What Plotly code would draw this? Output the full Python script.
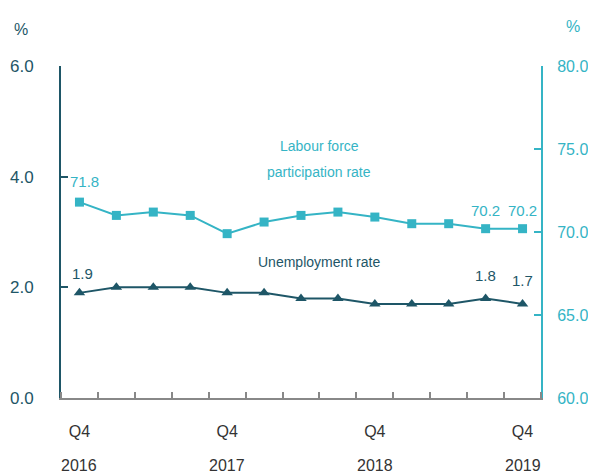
import plotly.graph_objects as go

quarters = ["Q4 2016", "Q1 2017", "Q2 2017", "Q3 2017", "Q4 2017", "Q1 2018", "Q2 2018",
            "Q3 2018", "Q4 2018", "Q1 2019", "Q2 2019", "Q3 2019", "Q4 2019"]
participation = [71.8, 71.0, 71.2, 71.0, 69.9, 70.6, 71.0, 71.2, 70.9, 70.5, 70.5, 70.2, 70.2]
unemployment = [1.9, 2.0, 2.0, 2.0, 1.9, 1.9, 1.8, 1.8, 1.7, 1.7, 1.7, 1.8, 1.7]
tick_idx = [0, 4, 8, 12]
tick_q = ["Q4", "Q4", "Q4", "Q4"]
tick_year = ["2016", "2017", "2018", "2019"]
part_label_idx = [0, 11, 12]
unemp_label_idx = [0, 11, 12]

LIGHT = "#35b4c5"
DARK = "#1e5667"
FONT = "Liberation Sans, Arial"

x = list(range(len(quarters)))

fig = go.Figure()
fig.add_trace(go.Scatter(x=x, y=participation, yaxis="y2", mode="lines+markers",
                         line=dict(color=LIGHT, width=2),
                         marker=dict(symbol="square", size=9, color=LIGHT),
                         name="Labour force participation rate", hovertext=quarters))
fig.add_trace(go.Scatter(x=x, y=unemployment, yaxis="y", mode="lines+markers",
                         line=dict(color=DARK, width=2),
                         marker=dict(symbol="triangle-up", size=10, color=DARK),
                         name="Unemployment rate", hovertext=quarters))

ann = []
for i in part_label_idx:
    ann.append(dict(x=i, y=participation[i], xref="x", yref="y2", text=f"{participation[i]:.1f}",
                    showarrow=False, yshift=18 if i else 21, xshift=5 if i == 0 else 0,
                    font=dict(family=FONT, size=15, color=LIGHT)))
for i in unemp_label_idx:
    ann.append(dict(x=i, y=unemployment[i], xref="x", yref="y", text=f"{unemployment[i]:.1f}",
                    showarrow=False, yshift=19 if i == 0 else 23, xshift=3 if i == 0 else 0,
                    font=dict(family=FONT, size=15, color=DARK)))
for i, yr in zip(tick_idx, tick_year):
    ann.append(dict(x=i, y=0, xref="x", yref="paper", text=yr, showarrow=False,
                    yanchor="middle", yshift=-67, font=dict(family=FONT, size=16, color="#333333")))
ann.append(dict(x=6.5, y=75.18, xref="x", yref="y2", text="Labour force", showarrow=False,
                font=dict(family=FONT, size=14, color=LIGHT)))
ann.append(dict(x=6.5, y=73.6, xref="x", yref="y2", text="participation rate", showarrow=False,
                font=dict(family=FONT, size=14, color=LIGHT)))
ann.append(dict(x=6.5, y=2.45, xref="x", yref="y", text="Unemployment rate", showarrow=False,
                font=dict(family=FONT, size=14, color=DARK)))
ann.append(dict(x=-0.083, y=1.111, xref="paper", yref="paper", text="%", showarrow=False,
                xanchor="center", yanchor="middle", font=dict(family=FONT, size=16, color=DARK)))
ann.append(dict(x=1.0667, y=1.1175, xref="paper", yref="paper", text="%", showarrow=False,
                xanchor="center", yanchor="middle", font=dict(family=FONT, size=16, color=LIGHT)))

fig.update_layout(
    width=588, height=467,
    margin=dict(l=53, r=55, t=58, b=77, autoexpand=False),
    paper_bgcolor="white", plot_bgcolor="white",
    showlegend=False,
    font=dict(family=FONT, size=17),
    xaxis=dict(range=[-0.5, 12.5], tickvals=tick_idx, ticktext=tick_q, ticks="",
               showgrid=False, zeroline=False, showline=True, linecolor="#888888", linewidth=2,
               tickfont=dict(family=FONT, size=16, color="#333333"), ticklabelstandoff=18,
               minor=dict(tick0=0.5, dtick=1, ticks="inside", ticklen=6, tickcolor="#888888",
                          tickwidth=1.5, showgrid=False)),
    yaxis=dict(range=[0, 6], dtick=2, tickformat=".1f", ticks="inside", ticklen=7,
               tickcolor=DARK, tickwidth=2, showgrid=False, zeroline=False,
               showline=True, linecolor=DARK, linewidth=2,
               tickfont=dict(family=FONT, size=17, color=DARK), ticklabelstandoff=22),
    yaxis2=dict(range=[60, 80], dtick=5, tickformat=".1f", overlaying="y", side="right",
                ticks="inside", ticklen=7, tickcolor=LIGHT, tickwidth=2, showgrid=False,
                zeroline=False, showline=True, linecolor=LIGHT, linewidth=2,
                tickfont=dict(family=FONT, size=16, color=LIGHT), ticklabelstandoff=11),
    annotations=ann,
)

fig.write_html("out.html")
